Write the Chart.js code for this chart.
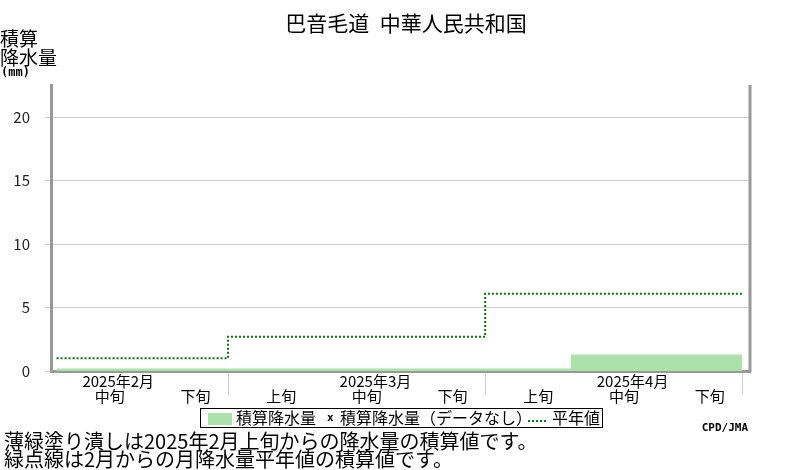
<!DOCTYPE html>
<html>
<head>
<meta charset="utf-8">
<script src="https://cdn.jsdelivr.net/npm/chart.js@4"></script>
<style>
  body { margin: 0; background: #fff; }
  #wrap { width: 800px; height: 470px; }
</style>
</head>
<body>
<div id="wrap"><canvas id="chart" width="800" height="470"></canvas></div>
<script>
// Categories (dekads shown on the x axis)
const dekadLabels = ['中旬', '下旬', '上旬', '中旬', '下旬', '上旬', '中旬', '下旬'];
const monthLabels = ['2025年2月', '2025年3月', '2025年4月'];
// dekad index where each month begins, plus the end of the plot
const monthStart = [0, 2, 5, 8];

// Accumulated precipitation (mm) per dekad
const accPrecip = [0.2, 0.2, 0.2, 0.2, 0.2, 0.2, 1.3, 1.3];
// Accumulated monthly normal (mm), one value per month
const normalMonthly = [1.0, 2.7, 6.1];

const yTicks = [0, 5, 10, 15, 20];

const FONT = '"Noto Sans CJK JP", "Noto Sans", sans-serif';

// Build stepped series: value i holds from x=i to x=i+1
function stepPoints(values) {
    const pts = values.map((v, i) => ({ x: i, y: v }));
    pts.push({ x: values.length, y: values[values.length - 1] });
    return pts;
}

const normalPerDekad = dekadLabels.map((_, i) => {
    let m = 0;
    while (m < monthLabels.length - 1 && i >= monthStart[m + 1]) m++;
    return normalMonthly[m];
});

const extras = {
    id: 'extras',
    afterDraw(chart) {
        const ctx = chart.ctx;
        const xs = chart.scales.x;
        const area = chart.chartArea;
        ctx.save();

        // right frame line
        ctx.strokeStyle = '#999';
        ctx.lineWidth = 3;
        ctx.beginPath();
        ctx.moveTo(area.right, area.top);
        ctx.lineTo(area.right, area.bottom + 1.5);
        ctx.stroke();

        // month boundary ticks
        ctx.strokeStyle = '#ccc';
        ctx.lineWidth = 1;
        monthStart.slice(1).forEach(b => {
            const x = Math.round(xs.getPixelForValue(b)) + 0.5;
            ctx.beginPath();
            ctx.moveTo(x, area.bottom + 2);
            ctx.lineTo(x, 395);
            ctx.stroke();
        });

        ctx.fillStyle = '#000';
        ctx.textBaseline = 'middle';
        ctx.textAlign = 'center';

        // dekad labels
        ctx.font = '15px ' + FONT;
        dekadLabels.forEach((lab, i) => {
            ctx.fillText(lab, xs.getPixelForValue(i + 0.62), 396);
        });
        // month labels
        monthLabels.forEach((lab, m) => {
            const mid = dekadLabels.indexOf('中旬', monthStart[m]);
            ctx.fillText(lab, xs.getPixelForValue(mid + 0.72), 381);
        });

        // title
        ctx.font = '21px ' + FONT;
        ctx.fillText('巴音毛道\u2002中華人民共和国', 406, 23);

        // y axis title
        ctx.textAlign = 'left';
        ctx.font = '19px ' + FONT;
        ctx.fillText('積算', 0, 39);
        ctx.fillText('降水量', 0, 58);
        ctx.font = 'bold 12px "DejaVu Sans Mono", monospace';
        ctx.fillText('(mm)', 1, 73);

        // legend box
        ctx.strokeStyle = '#000';
        ctx.lineWidth = 1;
        ctx.strokeRect(200.5, 408.5, 402, 19);
        const ly = 418;
        ctx.fillStyle = chart.data.datasets[1].backgroundColor;
        ctx.fillRect(208, 413, 24, 12);
        ctx.fillStyle = '#000';
        ctx.font = '16px ' + FONT;
        ctx.fillText('積算降水量', 236, ly);
        ctx.font = 'bold 11px "DejaVu Sans Mono", monospace';
        ctx.fillText('x', 327, ly);
        ctx.font = '16px ' + FONT;
        ctx.fillText('積算降水量（データなし）', 340, ly);
        ctx.strokeStyle = chart.data.datasets[0].borderColor;
        ctx.lineWidth = 2;
        ctx.setLineDash([2, 2]);
        ctx.beginPath();
        ctx.moveTo(528, 421);
        ctx.lineTo(546, 421);
        ctx.stroke();
        ctx.setLineDash([]);
        ctx.fillText('平年値', 552, ly);

        // credit
        ctx.textAlign = 'right';
        ctx.font = 'bold 11px "DejaVu Sans Mono", monospace';
        ctx.fillText('CPD/JMA', 748, 428);

        // notes
        ctx.textAlign = 'left';
        ctx.font = '20px ' + FONT;
        ctx.fillText('薄緑塗り潰しは2025年2月上旬からの降水量の積算値です。', 4, 441);
        ctx.fillText('緑点線は2月からの月降水量平年値の積算値です。', 4, 459);

        ctx.restore();
    }
};

new Chart(document.getElementById('chart').getContext('2d'), {
    type: 'line',
    data: {
        datasets: [
            {
                label: '平年値',
                data: stepPoints(normalPerDekad),
                stepped: 'before',
                borderColor: '#008000',
                borderWidth: 2,
                borderDash: [2, 2],
                pointRadius: 0,
                fill: false,
                order: 0
            },
            {
                label: '積算降水量',
                data: stepPoints(accPrecip),
                stepped: 'before',
                borderWidth: 0,
                borderColor: 'rgba(0,0,0,0)',
                backgroundColor: '#aae2aa',
                pointRadius: 0,
                fill: 'origin',
                order: 1
            }
        ]
    },
    options: {
        responsive: false,
        animation: false,
        devicePixelRatio: 1,
        layout: { padding: { top: 85, right: 50, bottom: 0, left: 0 } },
        plugins: {
            legend: { display: false },
            tooltip: { enabled: false },
            title: { display: false }
        },
        scales: {
            x: {
                type: 'linear',
                min: -0.065,
                max: 8.09,
                ticks: { display: false },
                grid: { display: false },
                border: { display: true, color: '#999', width: 3 },
                afterFit(scale) { scale.height = 99; }
            },
            y: {
                min: 0,
                max: 22.55,
                afterBuildTicks(scale) {
                    scale.ticks = yTicks.map(v => ({ value: v }));
                },
                ticks: {
                    padding: 15,
                    color: '#222',
                    font: { family: FONT, size: 15 }
                },
                grid: { color: '#ccc', lineWidth: 1, tickLength: 6 },
                border: { display: true, color: '#999', width: 3 },
                afterFit(scale) { scale.width = 51; }
            }
        }
    },
    plugins: [extras]
});
</script>
</body>
</html>
